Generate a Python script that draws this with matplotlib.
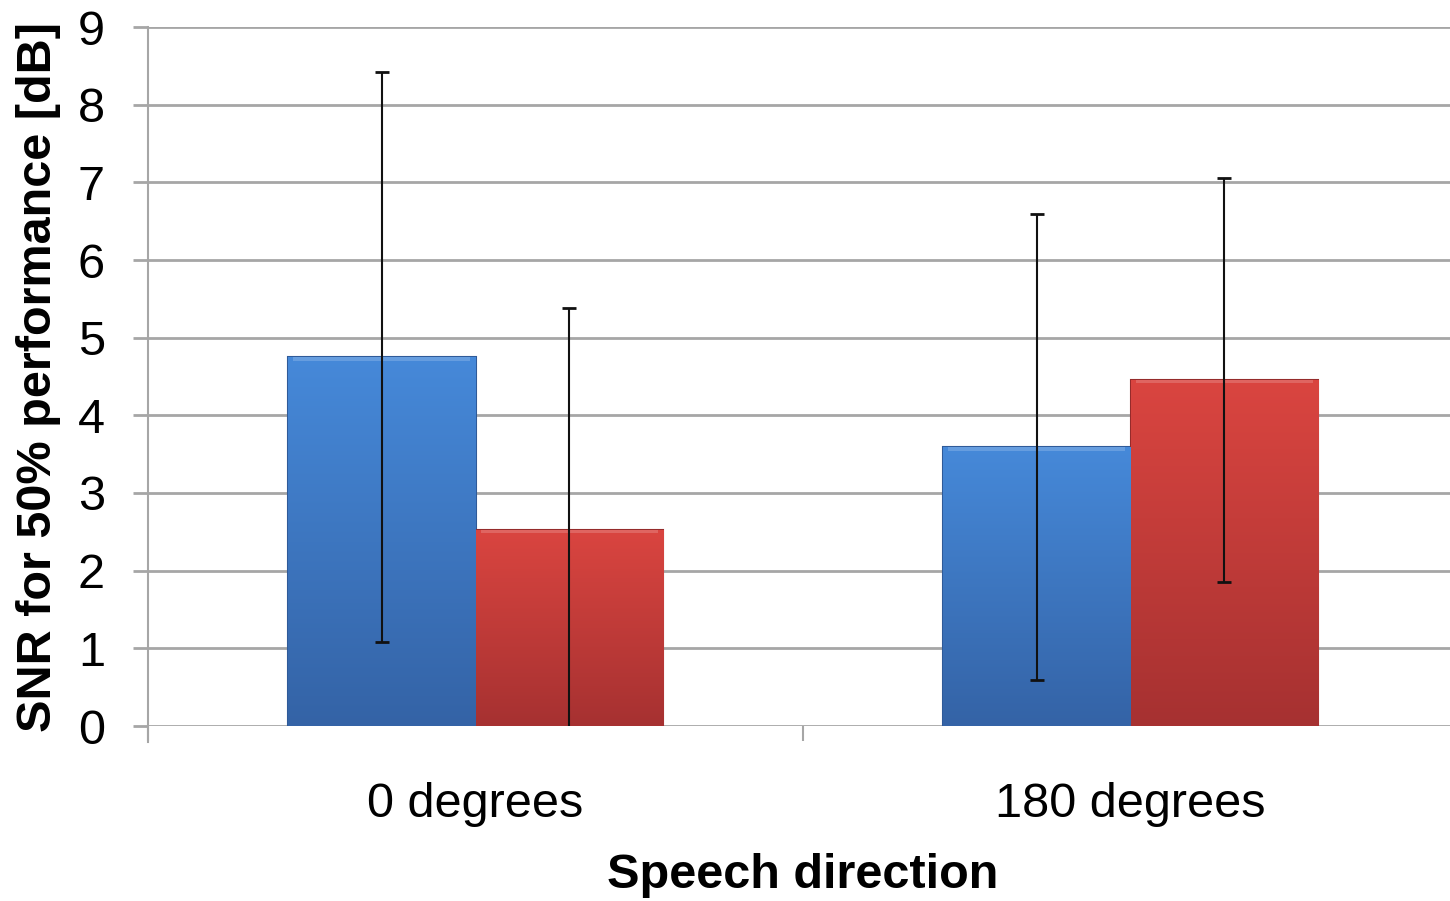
import matplotlib.pyplot as plt
import numpy as np
from matplotlib.colors import LinearSegmentedColormap

plt.rcParams["font.family"] = ["Liberation Sans", "DejaVu Sans"]

categories = ["0 degrees", "180 degrees"]
blue_vals = [4.75, 3.59]
red_vals = [2.53, 4.46]
blue_err = [3.67, 3.0]
red_err = [2.85, 2.6]

fig = plt.figure(figsize=(14.5, 9.01), dpi=100)
ax = fig.add_axes([148 / 1450, 1 - 726 / 901, 1310 / 1450, 699 / 901])

x = np.arange(len(categories))
w = 0.287

grad = np.linspace(0, 1, 256).reshape(-1, 1)


def shaded_bars(xs, vals, top, bottom, edge):
    bars = ax.bar(xs, vals, w, color=bottom, edgecolor=edge, linewidth=1.5, zorder=2)
    cmap = LinearSegmentedColormap.from_list("g", [bottom, top])
    for b in bars:
        x0, y0 = b.get_x(), b.get_y()
        bw, bh = b.get_width(), b.get_height()
        im = ax.imshow(grad, cmap=cmap, aspect="auto", origin="lower",
                       extent=[x0, x0 + bw, y0, y0 + bh], zorder=2.1)
        im.set_clip_path(b)
        # thin light bevel at the top edge
        ax.fill_between([x0 + 0.008, x0 + bw - 0.008], y0 + bh - 0.05, y0 + bh,
                        color="white", alpha=0.18, lw=0, zorder=2.2)
    return bars


shaded_bars(x - w / 2, blue_vals, "#4689d9", "#3463a6", "#2f5a98")
shaded_bars(x + w / 2, red_vals, "#da4540", "#a63131", "#952b2b")

ax.errorbar(x - w / 2, blue_vals, yerr=blue_err, fmt="none", ecolor="#111111",
            elinewidth=1.5, capsize=5, capthick=2, zorder=3)
ax.errorbar(x + w / 2, red_vals, yerr=red_err, fmt="none", ecolor="#111111",
            elinewidth=1.5, capsize=5, capthick=2, zorder=3)

ax.set_xlim(-0.5, 1.5)
ax.set_ylim(0, 9)
ax.set_yticks(range(10))
ax.yaxis.grid(True, color="#a6a6a6", linewidth=2)
ax.set_axisbelow(True)

for s in ["top", "right", "bottom"]:
    ax.spines[s].set_visible(False)
ax.spines["left"].set_color("#a6a6a6")
ax.spines["left"].set_linewidth(1.5)
ax.spines["left"].set_bounds(-0.2, 9)
ax.spines["left"].set_clip_on(False)

ax.set_xticks(x)
ax.set_xticklabels(categories)
ax.set_xticks([-0.5, 0.5, 1.5], minor=True)
ax.tick_params(axis="x", which="major", length=0, pad=40, labelsize=35)
ax.tick_params(axis="x", which="minor", length=11, width=1.5, color="#a6a6a6")
ax.tick_params(axis="y", length=11, width=2, color="#a6a6a6", pad=20, labelsize=35)

ax.set_xlabel("Speech direction", fontsize=35, fontweight="bold", labelpad=19)
ax.set_ylabel("SNR for 50% performance [dB]", fontsize=35, fontweight="bold", labelpad=12)

fig.savefig("out.png", dpi=100)
